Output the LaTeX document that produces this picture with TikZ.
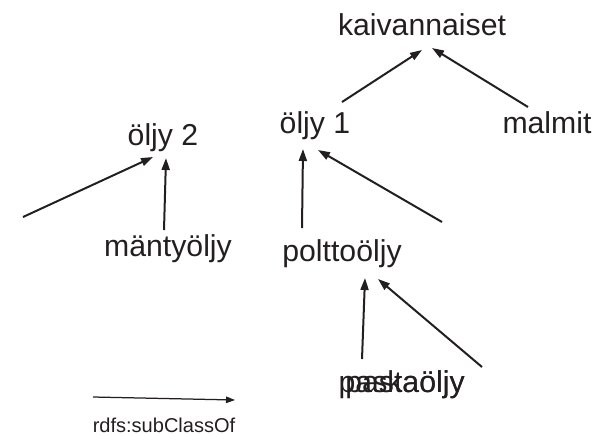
\documentclass[tikz,border=0pt]{standalone}
\usepackage{fontspec}
\setmainfont{Liberation Sans}
\usetikzlibrary{arrows.meta,calc}
\definecolor{inkgray}{RGB}{35,31,32}

\begin{document}
\begin{tikzpicture}[x=0.02cm, y=-0.02cm,
	every node/.style={inner sep=0pt, anchor=base, text=inkgray, font=\fontsize{17.2}{20}\selectfont},
	subclass/.style={draw=inkgray, line width=0.04cm, -{Triangle[length=0.24cm, width=0.16cm]}},
	legendarrow/.style={draw=inkgray, line width=0.025cm, -{Triangle[length=0.18cm, width=0.13cm]}}]
			\useasboundingbox (0,0) rectangle (609,434);
			
			% CLASSES
			\node (kaiv) at (422,35) {kaivannaiset}; % root
			\node (oljy1) at (315,133) {öljy 1};
			\node (malmit) at (547,133) {malmit};
			\node (oljy2) at (163,145) {öljy 2};
			\node (manty) at (168,256) {mäntyöljy};
			\node (poltto) at (342,261) {polttoöljy};
			\node[anchor=base east] (pasta) at (465,392) {pastaöljy}; % overlapping
			\node[anchor=base east] (paska) at (465,392) {paskaöljy}; % overlapping
			\node[font=\fontsize{11.4}{13}\selectfont] (legend) at (164,432) {rdfs:subClassOf};
			
			% FREE ENDS
			\coordinate (free1) at (442,222);
			\coordinate (free2) at (23,217);
			\coordinate (free3) at (482,367);
			\coordinate (lega) at (93,397);
			\coordinate (legb) at (235,400);
			
			% DRAW SUBCLASS ARROWS
			\path[subclass] ($(oljy1.base)+(27,-31)$)--($(kaiv.base)+(0,15)$);
			\path[subclass] ($(malmit.base)+(-19,-26)$)--($(kaiv.base)+(10,13)$);
			\path[subclass] ($(poltto.base)+(-40,-33)$)--($(oljy1.base)+(-12,16)$);
			\path[subclass] (free1)--($(oljy1.base)+(3,17)$);
			\path[subclass] (free2)--($(oljy2.base)+(-10,12)$);
			\path[subclass] ($(manty.base)+(-4,-26)$)--($(oljy2.base)+(3,13)$);
			\path[subclass] ($(pasta.base)+(-43,-33)$)--($(poltto.base)+(23,17)$);
			\path[subclass] (free3)--($(poltto.base)+(36,18)$);
			
			% DRAW LEGEND
			\path[legendarrow] (lega)--(legb);
		\end{tikzpicture}
\end{document}
